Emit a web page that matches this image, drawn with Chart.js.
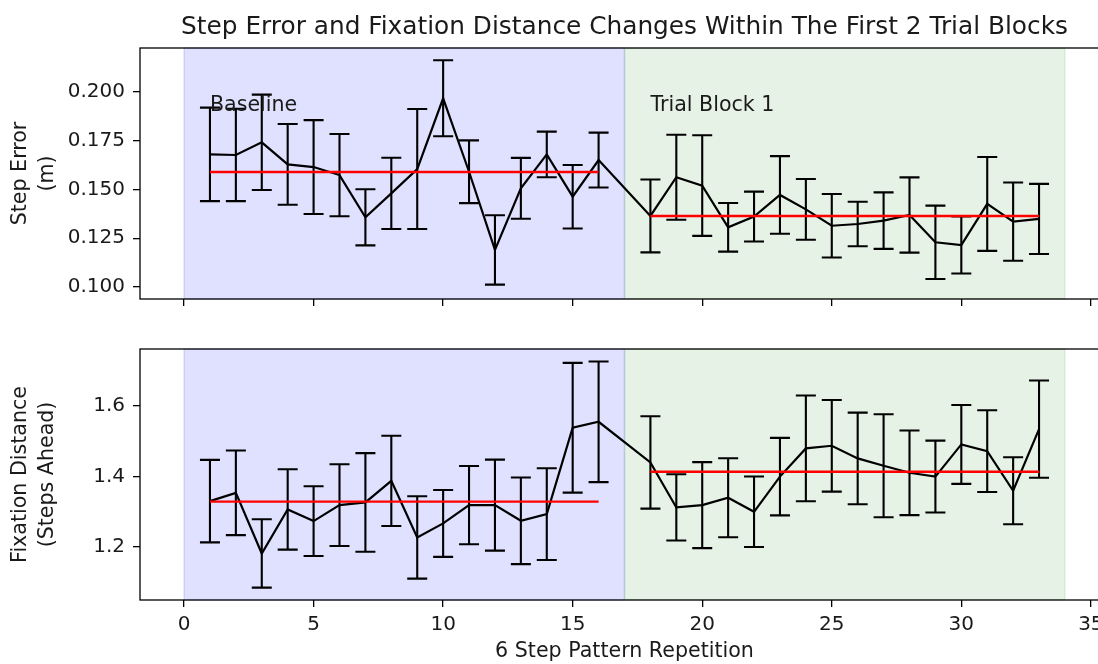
<!DOCTYPE html>
<html>
<head>
<meta charset="utf-8">
<script src="https://cdn.jsdelivr.net/npm/chart.js@4.4.1/dist/chart.umd.min.js"></script>
<style>
  body { margin: 0; overflow: hidden; background: #fff; width: 1098px; height: 664px; position: relative; }
  canvas { position: absolute; left: 0; }
</style>
</head>
<body>
<canvas id="errChart" width="1115" height="320" style="top:0"></canvas>
<canvas id="fixChart" width="1115" height="354" style="top:310px"></canvas>
<script>
// repetitions (17 is the gap between the two blocks)
const reps = [1, 2, 3, 4, 5, 6, 7, 8, 9, 10, 11, 12, 13, 14, 15, 16,
              18, 19, 20, 21, 22, 23, 24, 25, 26, 27, 28, 29, 30, 31, 32, 33];

const stepError = [0.168, 0.1677, 0.1742, 0.1629, 0.1615, 0.1574, 0.1357, 0.148, 0.1605, 0.1968, 0.1591, 0.119, 0.1506, 0.168, 0.1463, 0.1651,
                   0.1364, 0.1563, 0.152, 0.1306, 0.1361, 0.1472, 0.1398, 0.1314, 0.1323, 0.134, 0.1369, 0.1229, 0.1215, 0.1426, 0.1335, 0.1349];
const stepErrorSd = [0.024, 0.0237, 0.0245, 0.0207, 0.0241, 0.0211, 0.0144, 0.0183, 0.0308, 0.0195, 0.0161, 0.0178, 0.0156, 0.0117, 0.0163, 0.0141,
                     0.0187, 0.0218, 0.0258, 0.0125, 0.0128, 0.0199, 0.0156, 0.0163, 0.0114, 0.0145, 0.0193, 0.0188, 0.0146, 0.0241, 0.0201, 0.018];

const fixation = [1.3305, 1.354, 1.182, 1.307, 1.2738, 1.3191, 1.3267, 1.388, 1.2275, 1.2672, 1.3191, 1.3191, 1.2747, 1.2936, 1.5385, 1.5555,
                  1.4402, 1.3126, 1.3191, 1.34, 1.3002, 1.4, 1.48, 1.4875, 1.4516, 1.4307, 1.4109, 1.4, 1.4913, 1.4723, 1.3598, 1.5348];
const fixationSd = [0.117, 0.12, 0.097, 0.114, 0.099, 0.116, 0.14, 0.128, 0.117, 0.095, 0.111, 0.129, 0.123, 0.13, 0.184, 0.171,
                    0.131, 0.094, 0.122, 0.112, 0.1, 0.11, 0.15, 0.13, 0.13, 0.146, 0.12, 0.102, 0.112, 0.116, 0.095, 0.138];

// block info
const blockNames = ['Baseline', 'Trial Block 1'];
const blockStarts = [0, 17];
const blockEnds = [17, 34];
const stepErrorMeans = [0.159, 0.1364];
const fixationMeans = [1.329, 1.414];
const labelPos = [[1, 0.1903], [18, 0.1903]];

// ticks
const xTicks = [0, 5, 10, 15, 20, 25, 30, 35];
const errTicks = [0.100, 0.125, 0.150, 0.175, 0.200];
const fixTicks = [1.2, 1.4, 1.6];

const blockColors = ['rgba(0,0,255,0.12)', 'rgba(0,128,0,0.1)'];
const chartTitle = 'Step Error and Fixation Distance Changes Within The First 2 Trial Blocks';

Chart.defaults.font.family = 'DejaVu Sans';
Chart.defaults.font.size = 20;
Chart.defaults.color = '#1a1a1a';

//shaded blocks behind the data
const spansPlugin = {
  id: 'spans',
  beforeDatasetsDraw(chart) {
    const { ctx, chartArea, scales: { x } } = chart;
    ctx.save();
    blockStarts.forEach((s, i) => {
      const x0 = x.getPixelForValue(s);
      const x1 = x.getPixelForValue(blockEnds[i]);
      ctx.fillStyle = blockColors[i];
      ctx.strokeStyle = blockColors[i];
      ctx.lineWidth = 1.5;
      ctx.fillRect(x0, chartArea.top, x1 - x0, chartArea.bottom - chartArea.top);
      ctx.strokeRect(x0, chartArea.top, x1 - x0, chartArea.bottom - chartArea.top);
    });
    ctx.restore();
  }
};

//error bars for the dataset that has an errors list
const errorBarPlugin = {
  id: 'errorBars',
  afterDatasetDraw(chart, args) {
    const ds = chart.data.datasets[args.index];
    if (!ds.errors) return;
    const { ctx, scales: { x, y } } = chart;
    ctx.save();
    ctx.strokeStyle = '#000';
    ctx.lineWidth = 2.1;
    ds.data.forEach((p, i) => {
      const px = x.getPixelForValue(p.x);
      const top = y.getPixelForValue(p.y + ds.errors[i]);
      const bot = y.getPixelForValue(p.y - ds.errors[i]);
      ctx.beginPath();
      ctx.moveTo(px, top); ctx.lineTo(px, bot);
      ctx.moveTo(px - 10, top); ctx.lineTo(px + 10, top);
      ctx.moveTo(px - 10, bot); ctx.lineTo(px + 10, bot);
      ctx.stroke();
    });
    ctx.restore();
  }
};

// box round the axes
const framePlugin = {
  id: 'frame',
  afterDraw(chart) {
    const { ctx, chartArea: a } = chart;
    ctx.save();
    ctx.strokeStyle = '#000';
    ctx.lineWidth = 1.3;
    ctx.strokeRect(Math.round(a.left), Math.round(a.top), a.right - a.left, a.bottom - a.top);
    ctx.restore();
  }
};

const textPlugin = {
  id: 'texts',
  afterDraw(chart) {
    const { ctx, chartArea: a, scales: { x, y } } = chart;
    ctx.save();
    ctx.fillStyle = '#1a1a1a';
    ctx.font = '20.6px "DejaVu Sans"';
    ctx.textBaseline = 'alphabetic';
    ctx.textAlign = 'left';
    blockNames.forEach((n, i) => {
      ctx.fillText(n, x.getPixelForValue(labelPos[i][0]), y.getPixelForValue(labelPos[i][1]));
    });
    ctx.font = '24.8px "DejaVu Sans"';
    ctx.textAlign = 'center';
    ctx.fillText(chartTitle, (a.left + a.right) / 2, 34);
    ctx.restore();
  }
};

function makeDatasets(values, errors, means) {
  const sets = [{
    data: reps.map((r, i) => ({ x: r, y: values[i] })),
    errors: errors,
    borderColor: '#000',
    borderWidth: 2.2,
    pointRadius: 0,
    tension: 0,
    order: 1
  }];
  means.forEach((m, i) => {
    const inBlock = reps.filter(r => r > blockStarts[i] && r < blockEnds[i]);
    sets.push({
      data: [{ x: inBlock[0], y: m }, { x: inBlock[inBlock.length - 1], y: m }],
      borderColor: '#ff0000',
      borderWidth: 2.4,
      pointRadius: 0,
      order: 0
    });
  });
  return sets;
}

function makeChart(canvasId, values, errors, means, yMin, yMax, yTicks, digits, yTitle, showX, pad, xHeight, extraPlugins) {
  return new Chart(document.getElementById(canvasId), {
    type: 'line',
    data: { datasets: makeDatasets(values, errors, means) },
    options: {
      responsive: false,
      animation: false,
      devicePixelRatio: 1,
      layout: { padding: { top: pad, right: 6, left: 0, bottom: 0 } },
      plugins: { legend: { display: false }, tooltip: { enabled: false } },
      scales: {
        x: {
          type: 'linear',
          min: -1.7,
          max: 35.7,
          afterBuildTicks: s => { s.ticks = xTicks.map(v => ({ value: v })); },
          afterFit: s => { s.height = xHeight; },
          ticks: { display: showX, padding: 6, maxRotation: 0 },
          grid: { drawOnChartArea: false, tickLength: 7, color: '#000', lineWidth: 1.3 },
          border: { display: false },
          title: {
            display: showX,
            text: '6 Step Pattern Repetition',
            font: { size: 20.6 },
            padding: { top: 2, bottom: 0 }
          }
        },
        y: {
          min: yMin,
          max: yMax,
          afterBuildTicks: s => { s.ticks = yTicks.map(v => ({ value: v })); },
          afterFit: s => { s.width = 140; },
          ticks: { padding: 8, callback: v => v.toFixed(digits) },
          grid: { drawOnChartArea: false, tickLength: 7, color: '#000', lineWidth: 1.3 },
          border: { display: false },
          title: {
            display: true,
            text: yTitle,
            font: { size: 20.6, lineHeight: 1.32 },
            padding: { top: 7, bottom: 0 }
          }
        }
      }
    },
    plugins: [spansPlugin, errorBarPlugin, framePlugin].concat(extraPlugins)
  });
}

makeChart('errChart', stepError, stepErrorSd, stepErrorMeans, 0.0938, 0.2226, errTicks, 3,
  ['Step Error', '(m)'], false, 48, 21, [textPlugin]);
makeChart('fixChart', fixation, fixationSd, fixationMeans, 1.050, 1.762, fixTicks, 1,
  ['Fixation Distance', '(Steps Ahead)'], true, 39, 64, []);
</script>
</body>
</html>
